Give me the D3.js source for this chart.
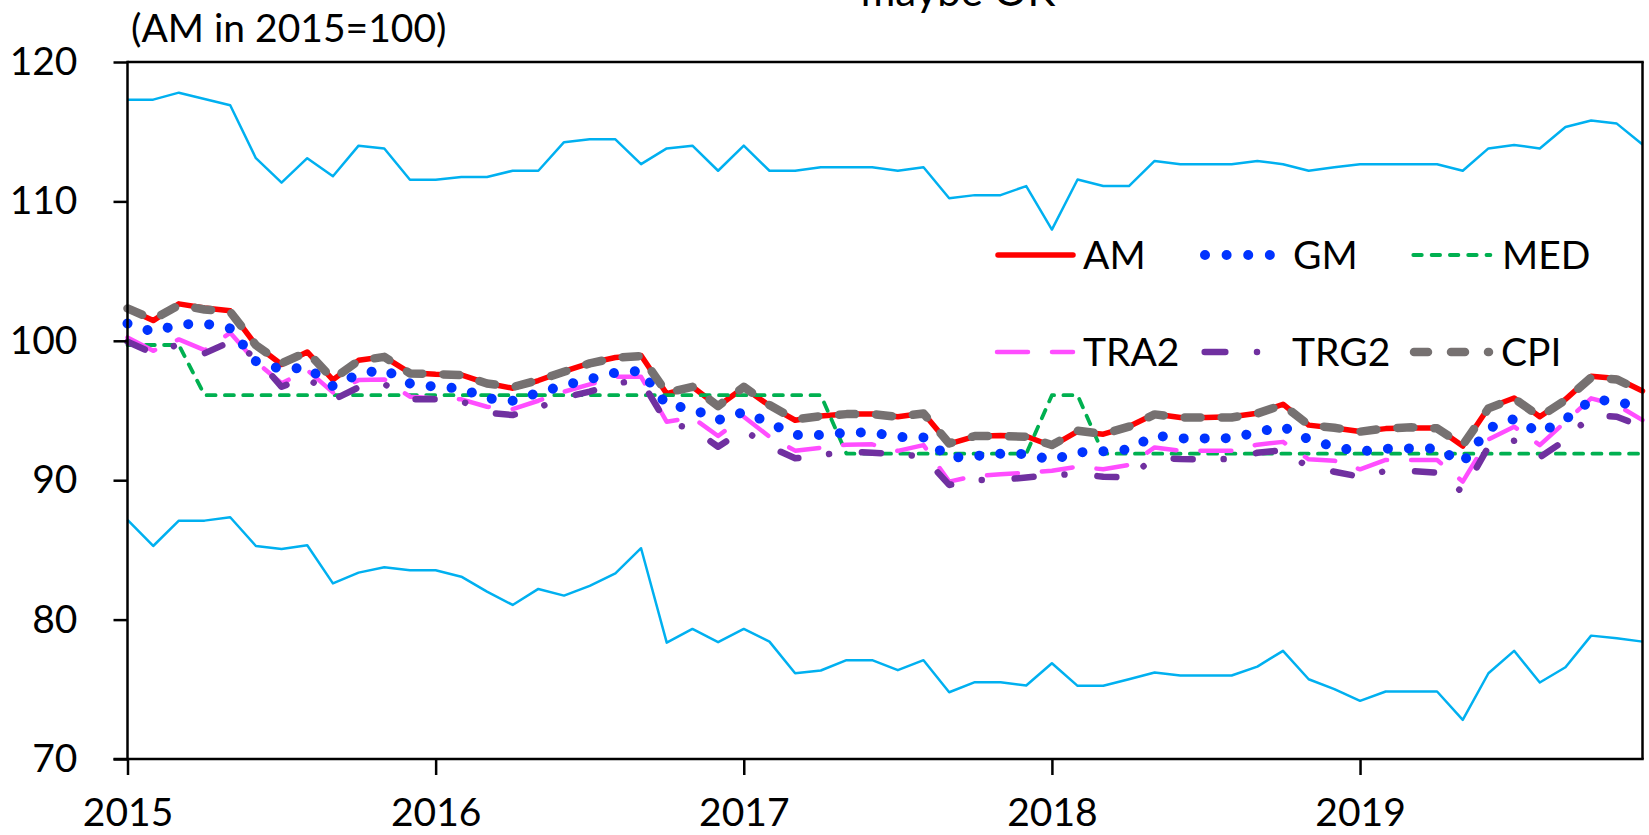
<!DOCTYPE html>
<html>
<head>
<meta charset="utf-8">
<script src="https://cdn.jsdelivr.net/npm/d3@7"></script>
<style>
  html, body { margin: 0; padding: 0; background: #fff; }
  svg { display: block; }
  text { font-family: Lato, "Open Sans", sans-serif; fill: #000; }
</style>
</head>
<body>
<svg id="chart" width="1649" height="835"></svg>
<script>
// ---------- DATA (monthly, Jan 2015 .. Dec 2019) ----------
const months = d3.range(60); // month index 0..59
const yearTickIdx = [0, 12, 24, 36, 48];
const yearLabels = ["2015", "2016", "2017", "2018", "2019"];
const yTicks = [70, 80, 90, 100, 110, 120];

const upperBand = [117.3,117.3,117.8,117.35,116.9,113.1,111.35,113.1,111.8,114.0,113.8,111.55,
  111.55,111.75,111.75,112.2,112.2,114.25,114.45,114.45,112.67,113.8,114.0,112.2,
  114.0,112.2,112.2,112.45,112.45,112.45,112.2,112.45,110.23,110.45,110.45,111.1,
  107.98,111.57,111.1,111.1,112.9,112.67,112.67,112.67,112.9,112.67,112.2,112.45,
  112.67,112.67,112.67,112.67,112.2,113.8,114.05,113.8,115.34,115.8,115.58,114.08];

const lowerBand = [87.15,85.28,87.1,87.1,87.34,85.28,85.07,85.33,82.6,83.37,83.75,83.54,
  83.54,83.08,82.01,81.05,82.2,81.72,82.42,83.32,85.12,78.35,79.33,78.38,
  79.33,78.42,76.15,76.35,77.09,77.09,76.37,77.09,74.79,75.51,75.51,75.27,
  76.87,75.25,75.25,75.72,76.2,75.99,75.99,75.99,76.63,77.76,75.72,75.01,
  74.17,74.84,74.84,74.84,72.81,76.15,77.76,75.49,76.58,78.85,78.66,78.42];

const AM = [102.3,101.45,102.65,102.35,102.15,99.7,98.3,99.2,97.2,98.6,98.85,97.7,
  97.6,97.55,96.95,96.6,97.15,97.8,98.4,98.8,98.95,96.2,96.7,95.3,
  96.65,95.35,94.3,94.6,94.75,94.75,94.55,94.8,92.6,93.15,93.2,93.15,
  92.45,93.5,93.3,93.85,94.75,94.5,94.5,94.55,94.8,95.45,93.95,93.75,
  93.5,93.7,93.75,93.75,92.45,95.2,95.9,94.55,95.8,97.45,97.3,96.4];

const GM = [101.24,100.65,101.17,101.24,100.89,98.54,97.95,98.09,96.75,97.61,97.95,96.94,
  96.7,96.58,95.87,95.7,96.27,96.8,97.25,97.71,97.85,95.39,95.13,94.31,
  94.89,94.12,93.24,93.24,93.41,93.43,93.1,93.07,91.61,91.73,91.9,91.88,
  91.45,92.0,92.07,92.21,93.21,93.0,93.0,93.02,93.45,93.84,92.93,92.4,
  92.05,92.26,92.28,92.28,91.26,93.72,94.39,93.41,94.36,95.75,95.7,95.08];

const MED = [99.7,99.7,99.7,96.1,96.1,96.1,96.1,96.1,96.1,96.1,96.1,96.1,
  96.1,96.1,96.1,96.1,96.1,96.1,96.1,96.1,96.1,96.1,96.1,96.1,
  96.1,96.1,96.1,96.1,91.9,91.9,91.9,91.9,91.9,91.9,91.9,91.9,
  96.1,96.1,91.9,91.9,91.9,91.9,91.9,91.9,91.9,91.9,91.9,91.9,
  91.9,91.9,91.9,91.9,91.9,91.9,91.9,91.9,91.9,91.9,91.9,91.9];

const TRA2 = [100.24,99.28,100.1,99.33,100.57,98.5,96.95,97.9,96.3,97.18,97.23,95.99,
  95.87,95.8,95.27,95.1,95.7,96.35,96.87,97.42,97.42,94.19,94.5,93.17,
  94.55,93.12,92.12,92.33,92.55,92.57,92.1,92.52,89.9,90.3,90.42,90.54,
  90.68,90.97,90.78,91.09,92.35,92.12,92.12,92.12,92.55,92.75,91.5,91.4,
  90.78,91.45,91.45,91.45,89.9,92.93,93.84,92.52,94.19,95.87,95.39,94.31];

const TRG2 = [99.93,99.1,99.74,99.1,99.93,98.8,96.7,97.42,95.75,96.66,96.9,95.8,
  95.8,95.68,94.84,94.67,95.2,95.94,96.35,96.94,97.18,94.08,93.72,92.4,
  93.6,92.4,91.57,91.8,92.05,91.97,91.88,91.69,89.66,90.01,90.01,90.2,
  90.37,90.44,90.25,90.2,91.61,91.52,91.5,91.52,91.97,92.16,90.92,90.61,
  90.25,90.66,90.66,90.54,89.13,92.4,92.83,91.64,92.88,94.67,94.55,93.84];

const CPI = [102.32,101.53,102.56,102.25,102.08,99.69,98.38,99.21,97.25,98.57,98.85,97.66,
  97.61,97.54,96.94,96.68,97.18,97.78,98.38,98.78,98.9,96.27,96.7,95.32,
  96.7,95.39,94.36,94.6,94.74,94.74,94.55,94.79,92.64,93.17,93.17,93.12,
  92.52,93.55,93.31,93.84,94.72,94.5,94.5,94.5,94.79,95.4,93.96,93.76,
  93.48,93.72,93.79,93.72,92.52,95.15,95.87,94.55,95.75,97.37,97.23,96.35];

const titleText = "maybe OK";
const unitText = "(AM in 2015=100)";

// ---------- STYLES ----------
const styles = {
  band: { color: "#00B0F0", width: 2.5, dash: null, cap: "butt" },
  AM:   { color: "#FF0000", width: 5.5, dash: null, cap: "round" },
  MED:  { color: "#00B050", width: 3.8, dash: "9,9.3", cap: "round" },
  TRA2: { color: "#FF4DFF", width: 4.5, dash: "31,24", cap: "round" },
  TRG2: { color: "#7030A0", width: 6.5, dash: "19,31,0.01,33", cap: "round" },
  GM:   { color: "#0033FF", width: 10, dash: "0.01,21", cap: "round" },
  CPI:  { color: "#767171", width: 8.5, dash: "16,21", cap: "round" }
};

const FS = 39; // label font size

// ---------- CHART ----------
const svg = d3.select("#chart");
const x = d3.scaleLinear().domain([0, 59]).range([127.5, 1642.5]);
const y = d3.scaleLinear().domain([70, 120]).range([759, 62]);

const line = d3.line().x((d, i) => x(i)).y(d => y(d));

function drawSeries(values, st) {
  svg.append("path")
    .datum(values)
    .attr("d", line)
    .attr("fill", "none")
    .attr("stroke", st.color)
    .attr("stroke-width", st.width)
    .attr("stroke-linejoin", "round")
    .attr("stroke-linecap", st.cap)
    .attr("stroke-dasharray", st.dash);
}

drawSeries(upperBand, styles.band);
drawSeries(lowerBand, styles.band);
drawSeries(AM, styles.AM);
drawSeries(MED, styles.MED);
drawSeries(TRA2, styles.TRA2);
drawSeries(TRG2, styles.TRG2);
drawSeries(GM, styles.GM);
drawSeries(CPI, styles.CPI);

// Frame (top + right)
const [x0, x1] = x.range();
const [yb, yt] = y.range();
svg.append("line").attr("x1", x0).attr("x2", x1 + 1.25).attr("y1", yt).attr("y2", yt)
  .attr("stroke", "#000").attr("stroke-width", 2.5);
svg.append("line").attr("x1", x1).attr("x2", x1).attr("y1", yt).attr("y2", yb)
  .attr("stroke", "#000").attr("stroke-width", 2.5);

// Axes
const yAxis = d3.axisLeft(y).tickValues(yTicks).tickSize(14).tickSizeOuter(0).tickPadding(36);
const gy = svg.append("g").attr("transform", `translate(${x0},0)`).call(yAxis);
gy.select(".domain").attr("stroke", "#000").attr("stroke-width", 2.5)
  .attr("d", `M0,${yt - 1.25}V${yb + 1.25}`);
gy.selectAll(".tick line").attr("stroke", "#000").attr("stroke-width", 2.5);
gy.selectAll(".tick text").attr("font-family", "Lato").attr("font-size", FS).attr("fill", "#000");

const xAxis = d3.axisBottom(x).tickValues(yearTickIdx)
  .tickFormat((d, i) => yearLabels[i]).tickSize(16).tickSizeOuter(0).tickPadding(23);
const gx = svg.append("g").attr("transform", `translate(0,${yb})`).call(xAxis);
gx.select(".domain").attr("stroke", "#000").attr("stroke-width", 2.5)
  .attr("d", `M${x0 - 14},0H${x1 + 1.25}`);
gx.selectAll(".tick line").attr("stroke", "#000").attr("stroke-width", 2.5);
gx.selectAll(".tick text").attr("font-family", "Lato").attr("font-size", FS).attr("fill", "#000");

// Unit label and clipped title
svg.append("text").attr("x", 131).attr("y", 41.5).attr("font-size", FS).text(unitText);
svg.append("text").attr("x", 958).attr("y", 5.5).attr("text-anchor", "middle")
  .attr("font-size", 42).text(titleText);

// Legend
const legendItems = [
  { name: "AM",   st: styles.AM,   row: 0, sx: 998,    ex: 1073,  tx: 1083 },
  { name: "GM",   st: styles.GM,   row: 0, sx: 1205,   ex: 1270.5, tx: 1293, dash: "0.01,21.6" },
  { name: "MED",  st: styles.MED,  row: 0, sx: 1413.3, ex: 1490.4, tx: 1502, dash: "8.5,9.8" },
  { name: "TRA2", st: styles.TRA2, row: 1, sx: 997,    ex: 1073,  tx: 1083 },
  { name: "TRG2", st: styles.TRG2, row: 1, sx: 1204.7, ex: 1257.2, tx: 1292, dash: "20.6,31.7,0.01,50" },
  { name: "CPI",  st: styles.CPI,  row: 1, sx: 1414,   ex: 1489,  tx: 1501, dash: "14,23" }
];
const rowY = [255, 352];
const lg = svg.append("g");
legendItems.forEach(it => {
  const ly = rowY[it.row];
  lg.append("line").attr("x1", it.sx).attr("x2", it.ex).attr("y1", ly).attr("y2", ly)
    .attr("stroke", it.st.color).attr("stroke-width", it.st.width)
    .attr("stroke-linecap", it.st.cap)
    .attr("stroke-dasharray", it.dash || it.st.dash);
  lg.append("text").attr("x", it.tx).attr("y", ly + 14).attr("font-size", FS).text(it.name);
});
</script>
</body>
</html>
